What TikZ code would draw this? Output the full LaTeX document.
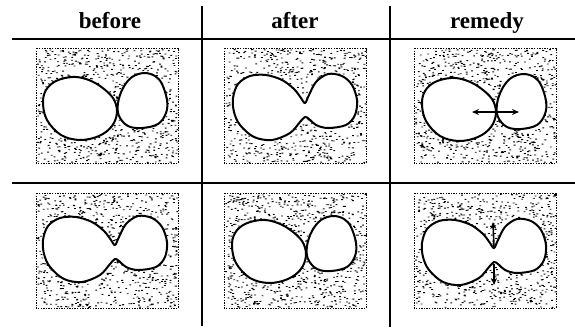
\documentclass[tikz,border=0pt]{standalone}
\usepackage{fontspec}
\setmainfont{Liberation Serif}
\usetikzlibrary{arrows.meta}
\tikzset{
  blob/.style={draw=black, fill=white, line width=2pt},
  rule/.style={draw=black, line width=1.6pt},
  vrule/.style={draw=black, line width=2.4pt},
  head/.style={font=\bfseries\fontsize{23}{23}\selectfont, anchor=base, inner sep=0pt},
  arr/.style={draw=black, line width=1.6pt},
  edge/.style={draw=black, line width=0.9pt, dash pattern=on 1.4pt off 1.2pt},
}
\newcommand\mystipple{%
  \fill[black] \foreach \k in {1,...,900}{ (rnd*140+1, rnd*113+1) rectangle ++(1.8,0.9) };
  \draw[edge] (0,0) rectangle (142,115);
}
\newcommand\twoblobs{%
  \draw[blob] plot[smooth cycle, tension=0.6] coordinates {(36,29) (20,33) (10,42) (7,55) (11,72) (25,87) (44,92) (63,88) (76,78) (81,64) (77,50) (64,38) (50,31)};
  \draw[blob] plot[smooth cycle, tension=0.6] coordinates {(108,25) (96,29) (87,40) (82,55) (83,68) (92,78) (106,80) (122,76) (130,65) (131,52) (126,36) (119,28)};
}
\newcommand\joinedblob{%
  \draw[blob] plot[smooth cycle, tension=0.55] coordinates {(9,50) (14,36) (26,28) (42,27) (58,32) (70,41) (77,50) (81,55) (85,47) (92,34) (104,26) (118,28) (128,37) (133,52) (131,67) (122,77) (104,80) (92,77) (85,71) (81,69) (76,74) (66,85) (48,92) (30,89) (16,77) (10,64)};
}
\begin{document}
\begin{tikzpicture}[x=1pt, y=-1pt]
\pgfmathsetseed{7}
\useasboundingbox (0,0) rectangle (575,330);
\fill[white] (0,0) rectangle (575,330);

% headers
\node[head] (hbefore) at (110,28) {before};
\node[head] (hafter) at (295,28) {after};
\node[head] (hremedy) at (487,28) {remedy};

% table rules
\coordinate (t1l) at (12,39);  \coordinate (t1r) at (575,39);
\coordinate (t2l) at (12,183); \coordinate (t2r) at (575,183);
\coordinate (v1t) at (202,6);  \coordinate (v1b) at (202,326);
\coordinate (v2t) at (390,6);  \coordinate (v2b) at (390,327);
\draw[rule] (t1l) -- (t1r);
\draw[rule] (t2l) -- (t2r);
\draw[vrule] (v1t) -- (v1b);
\draw[vrule] (v2t) -- (v2b);

% panel 1: before (separate)
\begin{scope}[shift={(36,48)}]
  \mystipple
  \twoblobs
\end{scope}

% panel 2: after (joined)
\begin{scope}[shift={(224,48)}]
  \mystipple
  \joinedblob
\end{scope}

% panel 3: remedy (separate, push apart)
\begin{scope}[shift={(414,48)}]
  \mystipple
  \begin{scope}[shift={(1,1)}]
    \twoblobs
    \coordinate (a3l) at (57,63);
    \coordinate (a3r) at (104,63);
    \draw[arr, {Stealth[length=7pt,width=6pt]}-{Stealth[length=7pt,width=6pt]}] (a3l) -- (a3r);
  \end{scope}
\end{scope}

% panel 4: before (joined)
\begin{scope}[shift={(36,193)}]
  \mystipple
  \begin{scope}[shift={(-2,-3)}]
    \joinedblob
  \end{scope}
\end{scope}

% panel 5: after (separate)
\begin{scope}[shift={(224,193)}]
  \mystipple
  \begin{scope}[shift={(1,-2)}]
    \twoblobs
  \end{scope}
\end{scope}

% panel 6: remedy (joined, push vertically)
\begin{scope}[shift={(414,193)}]
  \mystipple
  \begin{scope}[shift={(-1,0)}]
    \joinedblob
    \coordinate (n6t) at (81,55);
    \coordinate (a6t) at (80,29);
    \coordinate (n6b) at (81,71);
    \coordinate (a6b) at (81,92);
    \draw[arr, -{Stealth[length=7pt,width=6pt]}] (n6t) -- (a6t);
    \draw[arr, -{Stealth[length=7pt,width=6pt]}] (n6b) -- (a6b);
  \end{scope}
\end{scope}
\end{tikzpicture}
\end{document}
